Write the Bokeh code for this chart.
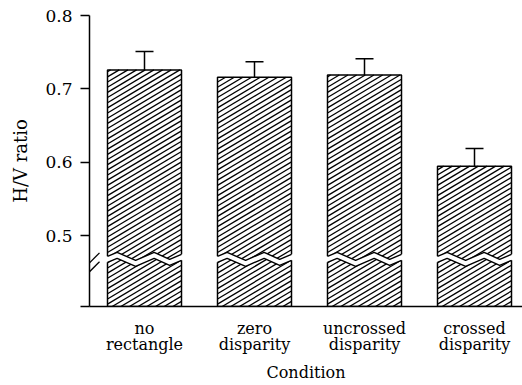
from bokeh.plotting import figure
from bokeh.models import FixedTicker, Arrow
from bokeh.embed import file_html
from bokeh.resources import INLINE

# ---- data ----
categories = ["no\nrectangle", "zero\ndisparity", "uncrossed\ndisparity", "crossed\ndisparity"]
means = [0.726, 0.716, 0.719, 0.595]
errors = [0.025, 0.021, 0.022, 0.024]
y_ticks = [0.5, 0.6, 0.7, 0.8]
y_tick_labels = ["0.5", "0.6", "0.7", "0.8"]
x_title = "Condition"
y_title = "H/V ratio"

# ---- layout constants ----
W, H = 522, 385
LEFT, RIGHT, TOP, BOTTOM = 89, 0, 15, 77
frame_w = W - LEFT - RIGHT
frame_h = H - TOP - BOTTOM
PX_X = 1 / 110.0          # data units per pixel (x)
PX_Y = 0.1 / 74.0         # data units per pixel (y)
y_top = 0.8
y_base = y_top - frame_h * PX_Y
x_start = 0.5
x_end = x_start + frame_w * PX_X
xs = list(range(1, len(categories) + 1))
bar_w = 74 * PX_X
cap_w = 18 * PX_X
FONT = "DejaVu Serif"
HATCH_SLOPE_PX = 0.6      # rise per px of run (screen)
HATCH_SPACING_PX = 5.2    # vertical spacing between hatch lines

p = figure(width=W, height=H, x_range=(x_start, x_end), y_range=(y_base, y_top),
           output_backend="svg", toolbar_location=None,
           min_border_left=LEFT, min_border_right=RIGHT,
           min_border_top=TOP, min_border_bottom=BOTTOM)
p.outline_line_color = None
p.xgrid.grid_line_color = None
p.ygrid.grid_line_color = None
p.background_fill_color = "white"
p.border_fill_color = "white"

# bars
p.vbar(x=xs, width=bar_w, bottom=y_base, top=means,
       fill_color="white", line_color="black", line_width=1.5)

# hatch lines clipped to each bar
m = HATCH_SLOPE_PX * PX_Y / PX_X
sp = HATCH_SPACING_PX * PX_Y
hx0, hy0, hx1, hy1 = [], [], [], []
for x, top in zip(xs, means):
    L, R, B, T = x - bar_w / 2, x + bar_w / 2, y_base, top
    c = B - m * (R - L)
    while c < T:
        sx, sy = L, c
        if sy < B:
            sx, sy = L + (B - c) / m, B
        ex_, ey = R, c + m * (R - L)
        if ey > T:
            ex_, ey = L + (T - c) / m, T
        if sx < ex_:
            hx0.append(sx); hy0.append(sy); hx1.append(ex_); hy1.append(ey)
        c += sp
p.segment(x0=hx0, y0=hy0, x1=hx1, y1=hy1, line_color="black", line_width=1.3)

# break bands in bars
fracs = [0.0, 0.13, 0.38, 0.63, 0.84, 1.0]
offs = [0.5, -3.5, 4.5, -3.5, 3.5, -1.5]   # px, down positive
y_brk = y_base + 48 * PX_Y
half_gap = 3.0
ext = 3 * PX_X
patch_xs, patch_ys, edge_xs, edge_ys = [], [], [], []
for x in xs:
    left = x - bar_w / 2
    ex = [left + f * bar_w for f in fracs]
    up = [y_brk - o * PX_Y + half_gap * PX_Y for o in offs]
    lo = [y_brk - o * PX_Y - half_gap * PX_Y for o in offs]
    px_ = [ex[0] - ext] + ex + [ex[-1] + ext]
    pu = [up[0]] + up + [up[-1]]
    pl = [lo[0]] + lo + [lo[-1]]
    patch_xs.append(px_ + px_[::-1])
    patch_ys.append(pu + pl[::-1])
    edge_xs += [ex, ex]
    edge_ys += [up, lo]
p.patches(patch_xs, patch_ys, fill_color="white", line_color=None)
p.multi_line(edge_xs, edge_ys, line_color="black", line_width=1.4)

# error bars (upper only)
tops = [mv + e for mv, e in zip(means, errors)]
p.segment(x0=xs, y0=means, x1=xs, y1=tops, line_color="black", line_width=1.5)
p.segment(x0=[x - cap_w / 2 for x in xs], y0=tops, x1=[x + cap_w / 2 for x in xs], y1=tops,
          line_color="black", line_width=1.5)

# axis break slashes
for dy_px in (44, 35):
    yc = y_base + dy_px * PX_Y
    p.add_layout(Arrow(end=None, x_start=x_start - 10 * PX_X, y_start=yc - 10 * PX_Y,
                       x_end=x_start + 10 * PX_X, y_end=yc + 10 * PX_Y,
                       line_color="black", line_width=1.3))

# y axis
yax = p.yaxis[0]
yax.ticker = FixedTicker(ticks=[y_base] + y_ticks)
overrides = {y_base: ""}
overrides.update({t: l for t, l in zip(y_ticks, y_tick_labels)})
yax.major_label_overrides = overrides
yax.axis_line_width = 1.5
yax.major_tick_line_width = 1.5
yax.major_tick_out = 9
yax.major_tick_in = 0
yax.minor_tick_line_color = None
yax.major_label_standoff = 8
yax.major_label_text_font = FONT
yax.major_label_text_font_size = "17px"
yax.major_label_text_color = "black"
yax.axis_label = y_title
yax.axis_label_text_font = FONT
yax.axis_label_text_font_size = "18px"
yax.axis_label_text_font_style = "normal"
yax.axis_label_text_color = "black"
yax.axis_label_standoff = 11

# x axis
xax = p.xaxis[0]
xax.ticker = FixedTicker(ticks=xs)
xax.major_label_overrides = {x: c for x, c in zip(xs, categories)}
xax.axis_line_width = 1.5
xax.major_tick_line_color = None
xax.minor_tick_line_color = None
xax.major_label_standoff = 6
xax.major_label_text_font = FONT
xax.major_label_text_font_size = "16px"
xax.major_label_text_line_height = 0.87
xax.major_label_text_color = "black"
xax.axis_label = x_title
xax.axis_label_text_font = FONT
xax.axis_label_text_font_size = "16px"
xax.axis_label_text_font_style = "normal"
xax.axis_label_text_color = "black"
xax.axis_label_standoff = 6

open("out.html", "w").write(file_html(p, INLINE))
